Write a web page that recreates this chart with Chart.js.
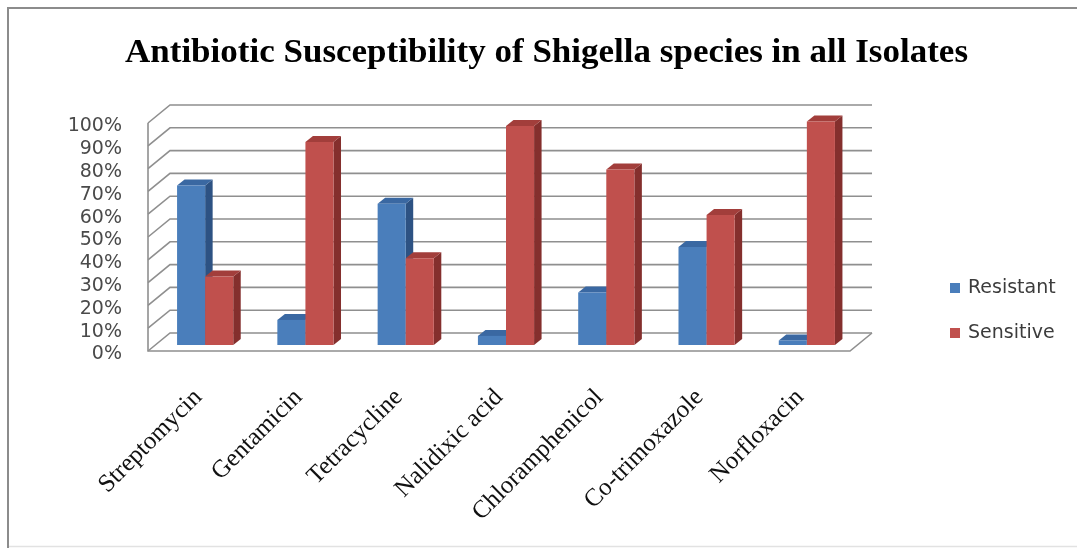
<!DOCTYPE html>
<html>
<head>
<meta charset="utf-8">
<script src="https://cdn.jsdelivr.net/npm/chart.js@4/dist/chart.umd.min.js"></script>
<style>
  html, body { margin: 0; padding: 0; background: #ffffff; }
  #wrap { width: 1077px; height: 548px; }
  canvas { display: block; }
</style>
</head>
<body>
<div id="wrap"><canvas id="chart" width="1077" height="548"></canvas></div>
<script>
// ---- chart data ----
const titleText = 'Antibiotic Susceptibility of Shigella species in all Isolates';
const antibiotics = ['Streptomycin', 'Gentamicin', 'Tetracycline', 'Nalidixic acid',
                     'Chloramphenicol', 'Co-trimoxazole', 'Norfloxacin'];
const resistant = [70, 11, 62, 4, 23, 43, 2];
const sensitive = [30, 89, 38, 96, 77, 57, 98];
const seriesNames = ['Resistant', 'Sensitive'];

// ---- look of the 3-D columns ----
const palette = [
  { front: '#4a7ebb', top: '#3a68a2', side: '#2d5283' },
  { front: '#c0504d', top: '#a23e3b', side: '#842f2d' }
];
// offsets of the floor's front edge, the back wall and a column's depth
// relative to the plane in which the column fronts stand
const FRONT = { dx: -7, dy: 6 };
const BACK  = { dx: 15, dy: -12 };
const DEPTH = { dx: 7.5, dy: -6 };
const gridColor = '#8f8f8f';

// page background and outer frame
const framePlugin = {
  id: 'frame',
  beforeDraw(chart) {
    const ctx = chart.ctx;
    ctx.save();
    ctx.fillStyle = '#ffffff';
    ctx.fillRect(0, 0, chart.width, chart.height);
    ctx.lineWidth = 2;
    ctx.strokeStyle = '#8c8c8c';
    ctx.beginPath();
    ctx.moveTo(8, 548); ctx.lineTo(8, 8); ctx.lineTo(chart.width, 8);
    ctx.stroke();
    ctx.strokeStyle = '#e2e2e2';
    ctx.lineWidth = 1.5;
    ctx.beginPath();
    ctx.moveTo(9, 546.5); ctx.lineTo(chart.width, 546.5);
    ctx.stroke();
    ctx.restore();
  }
};

// chart title, fitted to its line width
const titlePlugin = {
  id: 'titleLine',
  afterDraw(chart) {
    const ctx = chart.ctx;
    ctx.save();
    ctx.font = 'bold 34px "Liberation Serif", "Times New Roman", serif';
    ctx.fillStyle = '#000000';
    ctx.textBaseline = 'alphabetic';
    ctx.textAlign = 'left';
    const w = ctx.measureText(titleText).width;
    const target = 843;
    ctx.translate(125, 62);
    ctx.scale(target / w, 1);
    ctx.fillText(titleText, 0, 0);
    ctx.restore();
  }
};

// walls, floor and gridlines of the 3-D plot box
const boxPlugin = {
  id: 'box3d',
  beforeDatasetsDraw(chart) {
    const ctx = chart.ctx;
    const { left, right } = chart.chartArea;
    const ys = chart.scales.y;
    ctx.save();
    ctx.strokeStyle = gridColor;
    ctx.lineWidth = 1.6;
    ys.ticks.forEach(t => {
      const yp = ys.getPixelForValue(t.value);
      ctx.beginPath();
      ctx.moveTo(left + FRONT.dx, yp + FRONT.dy);
      ctx.lineTo(left + BACK.dx, yp + BACK.dy);
      ctx.lineTo(right + BACK.dx, yp + BACK.dy);
      ctx.stroke();
    });
    const y0 = ys.getPixelForValue(ys.min);
    const y1 = ys.getPixelForValue(ys.max);
    ctx.beginPath();
    ctx.moveTo(left + FRONT.dx, y1 + FRONT.dy);
    ctx.lineTo(left + FRONT.dx, y0 + FRONT.dy);
    ctx.lineTo(right + FRONT.dx, y0 + FRONT.dy);
    ctx.lineTo(right + BACK.dx, y0 + BACK.dy);
    ctx.stroke();
    ctx.restore();
  },
  // columns are painted below, category by category, so faces overlap correctly
  beforeDatasetDraw() {
    return false;
  },
  afterDatasetsDraw(chart) {
    const ctx = chart.ctx;
    const metas = chart.data.datasets.map((d, i) => chart.getDatasetMeta(i));
    const n = chart.data.labels.length;
    for (let i = 0; i < n; i++) {
      metas.forEach((meta, di) => {
        const bar = meta.data[i];
        if (!bar) return;
        const p = bar.getProps(['x', 'y', 'base', 'width'], true);
        const x1 = p.x - p.width / 2, x2 = p.x + p.width / 2;
        const top = Math.min(p.y, p.base), base = Math.max(p.y, p.base);
        const col = palette[di];
        ctx.save();
        // side face
        ctx.fillStyle = col.side;
        ctx.beginPath();
        ctx.moveTo(x2, top);
        ctx.lineTo(x2 + DEPTH.dx, top + DEPTH.dy);
        ctx.lineTo(x2 + DEPTH.dx, base + DEPTH.dy);
        ctx.lineTo(x2, base);
        ctx.closePath();
        ctx.fill();
        // top face
        ctx.fillStyle = col.top;
        ctx.beginPath();
        ctx.moveTo(x1, top);
        ctx.lineTo(x2, top);
        ctx.lineTo(x2 + DEPTH.dx, top + DEPTH.dy);
        ctx.lineTo(x1 + DEPTH.dx, top + DEPTH.dy);
        ctx.closePath();
        ctx.fill();
        ctx.restore();
        // front face, drawn by the bar element itself
        bar.draw(ctx);
      });
    }
  }
};

// legend on the right
const legendPlugin = {
  id: 'sideLegend',
  afterDraw(chart) {
    const ctx = chart.ctx;
    ctx.save();
    ctx.font = '19px "DejaVu Sans", Verdana, sans-serif';
    ctx.textBaseline = 'middle';
    ctx.textAlign = 'left';
    chart.data.datasets.forEach((ds, i) => {
      const cy = 288 + i * 45;
      ctx.fillStyle = ds.backgroundColor;
      ctx.fillRect(950, cy - 5, 10, 10);
      ctx.fillStyle = '#3c3c3c';
      ctx.fillText(ds.label, 968, cy);
    });
    ctx.restore();
  }
};

const plotLeft = 155, plotRight = 857, plotTop = 117, plotBottom = 345;

new Chart(document.getElementById('chart'), {
  type: 'bar',
  data: {
    labels: antibiotics,
    datasets: [
      { label: seriesNames[0], data: resistant, backgroundColor: palette[0].front },
      { label: seriesNames[1], data: sensitive, backgroundColor: palette[1].front }
    ]
  },
  options: {
    responsive: false,
    animation: false,
    devicePixelRatio: 1,
    layout: { padding: { top: plotTop, right: 1077 - plotRight, left: 0, bottom: 0 } },
    datasets: { bar: { categoryPercentage: 0.56, barPercentage: 1.0, borderWidth: 0 } },
    plugins: {
      legend: { display: false },
      title: { display: false },
      tooltip: { enabled: false }
    },
    scales: {
      x: {
        grid: { display: false, drawTicks: false },
        border: { display: false },
        ticks: {
          autoSkip: false,
          minRotation: 45,
          maxRotation: 45,
          padding: 38,
          labelOffset: -7,
          color: '#111111',
          font: { family: '"Liberation Serif", "Times New Roman", serif', size: 25 }
        },
        afterFit(scale) { scale.height = 548 - plotBottom; }
      },
      y: {
        min: 0,
        max: 100,
        grid: { display: false, drawTicks: false },
        border: { display: false },
        ticks: {
          autoSkip: false,
          stepSize: 10,
          padding: 33,
          labelOffset: 9.5,
          color: '#4a4a4a',
          font: { family: '"DejaVu Sans", Verdana, sans-serif', size: 19 },
          callback: v => v + '%'
        },
        afterFit(scale) { scale.width = plotLeft; }
      }
    }
  },
  plugins: [framePlugin, boxPlugin, titlePlugin, legendPlugin]
});
</script>
</body>
</html>
